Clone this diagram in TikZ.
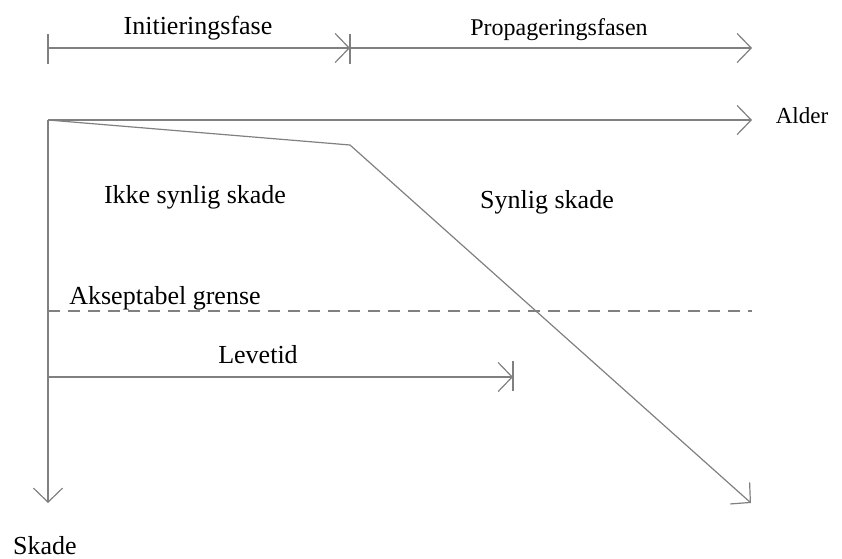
\documentclass[tikz,border=0pt]{standalone}
\usepackage{fontspec}
\setmainfont{Liberation Serif}
\usetikzlibrary{arrows.meta}
\tikzset{
  ln/.style={draw=black!50, line width=1.2pt},
  arr/.style={ln, -{Straight Barb[length=14pt,width=29pt]}},
  dashln/.style={ln, dash pattern=on 12pt off 8pt},
  lbl/.style={anchor=base, inner sep=0pt, font=\fontsize{26}{30}\selectfont},
  lblsm/.style={anchor=base, inner sep=0pt, font=\fontsize{24}{28}\selectfont},
  lblal/.style={anchor=base, inner sep=0pt, font=\fontsize{23}{27}\selectfont}
}
\begin{document}
\begin{tikzpicture}[x=1pt,y=-1pt]
\useasboundingbox (0,0) rectangle (842,558);
% coordinates
\coordinate (O) at (48,120);
\coordinate (A) at (752,120);
\coordinate (S) at (48,503);
\coordinate (K) at (350,145);
\coordinate (E) at (751,503);
\coordinate (T0) at (48,48);
\coordinate (T1) at (350,48);
\coordinate (T2) at (752,48);
\coordinate (T0a) at (48,34);
\coordinate (T0b) at (48,64);
\coordinate (T1a) at (350,34);
\coordinate (T1b) at (350,64);
\coordinate (D0) at (48,311);
\coordinate (D1) at (752,311);
\coordinate (L0) at (48,377);
\coordinate (L1) at (513,377);
\coordinate (L1a) at (513,361);
\coordinate (L1b) at (513,391);
% phase bars
\draw[ln] (T0a) -- (T0b);
\draw[ln] (T1a) -- (T1b);
\draw[arr] (T0) -- (T1);
\draw[arr] (T1) -- (T2);
% axes
\draw[arr] (O) -- (A);
\draw[arr] (O) -- (S);
% damage curve
\draw[arr, line join=round] (O) -- (K) -- (E);
% acceptable limit
\draw[dashln] (D0) -- (D1);
% lifetime
\draw[arr] (L0) -- (L1);
\draw[ln] (L1a) -- (L1b);
% labels
\node[lbl] (init) at (198,34) {Initieringsfase};
\node[lblsm] (prop) at (559,35) {Propageringsfasen};
\node[lblal] (alder) at (802,123) {Alder};
\node[lbl] (ikke) at (195,203) {Ikke synlig skade};
\node[lbl] (synlig) at (547,208) {Synlig skade};
\node[lbl] (aksept) at (165,304) {Akseptabel grense};
\node[lbl] (leve) at (258,363) {Levetid};
\node[lbl] (skade) at (45,554) {Skade};
\end{tikzpicture}
\end{document}
